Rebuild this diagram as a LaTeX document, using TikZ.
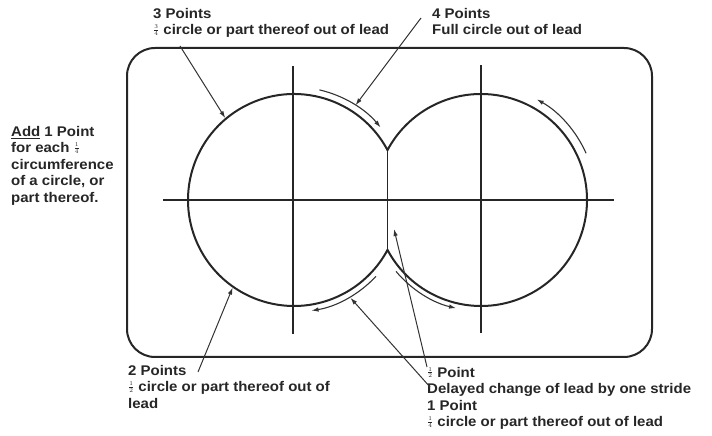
\documentclass[tikz,border=0pt]{standalone}
\usepackage{fontspec}
\newfontfamily\labelfont{Liberation Sans}[FakeStretch=1.07]
\usetikzlibrary{arrows.meta, calc}
\newcommand\frc[2]{\raisebox{2.5pt}[8pt][0pt]{\fontsize{9}{9}\selectfont$\frac{#1}{#2}$}}

\tikzset{
  pointtext/.style={font=\labelfont\bfseries\fontsize{14}{16.5}\selectfont, align=left, inner sep=0pt, anchor=north west, text=black!85},
  outline/.style={line width=2pt, black!85},
  crossline/.style={line width=1.8pt, black!85},
  runarrow/.style={line width=1.1pt, black!80, -{Latex[length=7pt,width=4.5pt]}},
  leader/.style={line width=1pt, black!80, -{Latex[length=7pt,width=4.5pt]}},
}

\begin{document}
\begin{tikzpicture}[x=1pt, y=1pt]
  \useasboundingbox (0,0) rectangle (712,436);
  % arena
  \draw[outline, rounded corners=28pt] (127,79) rectangle (652,388);
  % circle centres
  \coordinate (lc) at (294,236);
  \coordinate (rc) at (481,236);
  % cross lines
  \draw[crossline] (163,236) -- (614,236);
  \draw[crossline] (293,370) -- (293,102);
  \draw[crossline] (481,371) -- (481,103);
  % figure of eight
  \draw[outline] ($(lc)+(28.1:106)$) coordinate (topcusp)
    arc[start angle=28.1, end angle=331.9, radius=106] coordinate (botcusp)
    arc[start angle=208.1, end angle=511.9, radius=106] -- cycle;
  \draw[line width=1pt, black!85] (topcusp) -- (botcusp);

  % running arrows
  \draw[runarrow] ($(lc)+(77:113)$) arc[start angle=77, end angle=40, radius=113];
  \draw[runarrow] ($(rc)+(24:115)$) arc[start angle=24, end angle=61, radius=115];
  \draw[runarrow] ($(lc)+(-43:112)$) arc[start angle=-43, end angle=-81, radius=112];
  \draw[runarrow] ($(rc)+(220:111)$) arc[start angle=220, end angle=257, radius=111];

  % labels
  \node[pointtext] (three) at (153,428) {3 Points\\\frc{3}{4} circle or part thereof out of lead};
  \node[pointtext] (four) at (432,428) {4 Points\\Full circle out of lead};
  \node[pointtext] (add) at (11,310) {\underline{Add} 1 Point\\for each \frc{1}{4}\\circumference\\of a circle, or\\part thereof.};
  \node[pointtext] (two) at (128,71) {2 Points\\\frc{1}{2} circle or part thereof out of\\lead};
  \node[pointtext] (half) at (427,69) {\frc{1}{2} Point\\Delayed change of lead by one stride\\1 Point\\\frc{1}{4} circle or part thereof out of lead};

  % leaders
  \coordinate (threetail) at (180,390);
  \coordinate (fourtail) at (421,418);
  \coordinate (twotail) at (198,64);
  \coordinate (halftail) at (427,69);
  \coordinate (onetail) at (430,49);
  \coordinate (threetip) at ($(lc)+(130:107)$);
  \coordinate (fourtip) at ($(lc)+(57:113)$);
  \coordinate (twotip) at ($(lc)+(235:107)$);
  \coordinate (onetip) at ($(lc)+(-60:113)$);
  \coordinate (halftip) at (394,207);
  \draw[leader] (threetail) -- (threetip);
  \draw[leader] (fourtail) -- (fourtip);
  \draw[leader] (twotail) -- (twotip);
  \draw[leader] (halftail) -- (halftip);
  \draw[leader] (onetail) -- (onetip);
\end{tikzpicture}
\end{document}
